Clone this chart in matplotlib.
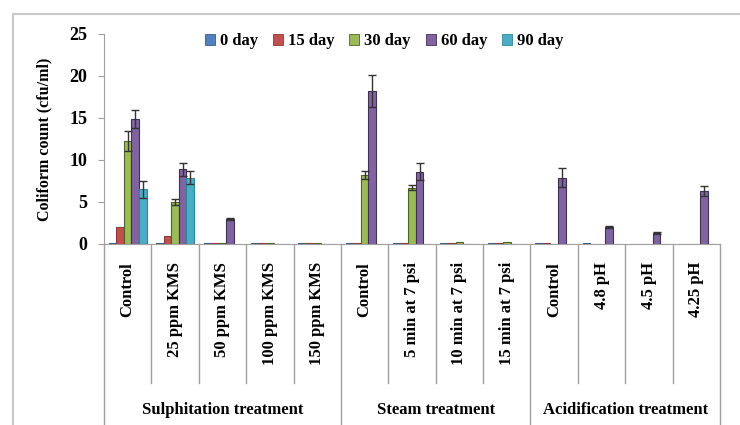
import matplotlib
matplotlib.use("Agg")
import matplotlib.pyplot as plt
import numpy as np
from matplotlib.lines import Line2D
from matplotlib.patches import Rectangle, Patch

plt.rcParams['font.family'] = ['Liberation Serif', 'DejaVu Serif']
plt.rcParams['font.weight'] = 'bold'

# Treatments (x categories) and their groups
categories = ["Control", "25 ppm KMS", "50 ppm KMS", "100 ppm KMS", "150 ppm KMS",
              "Control", "5 min at 7 psi", "10 min at 7 psi", "15 min at 7 psi",
              "Control", "4.8 pH", "4.5 pH", "4.25 pH"]
groups = ["Sulphitation treatment", "Steam treatment", "Acidification treatment"]
group_sizes = [5, 4, 4]

series_names = ["0 day", "15 day", "30 day", "60 day", "90 day"]
colors = ["#4F81BD", "#C0504D", "#9BBB59", "#8064A2", "#4BACC6"]
edges = ["#385D8A", "#8C3836", "#4F6228", "#3F3151", "#31859C"]

# Coliform counts (cfu/ml) per storage day
day0 = [0.1, 0.1, 0.1, 0.1, 0.1, 0.1, 0.1, 0.1, 0.1, 0.1, 0.1, 0.0, 0.0]
day15 = [2.0, 1.0, 0.1, 0.1, 0.1, 0.1, 0.1, 0.15, 0.15, 0.1, 0.0, 0.0, 0.0]
day30 = [12.3, 5.0, 0.15, 0.15, 0.15, 8.2, 6.7, 0.2, 0.2, 0.0, 0.0, 0.0, 0.0]
day60 = [14.9, 8.9, 3.0, 0.0, 0.0, 18.2, 8.6, 0.0, 0.0, 7.9, 2.0, 1.3, 6.3]
day90 = [6.5, 7.9, 0.0, 0.0, 0.0, 0.0, 0.0, 0.0, 0.0, 0.0, 0.0, 0.0, 0.0]

# Standard errors
err0 = [0] * 13
err15 = [0] * 13
err30 = [1.2, 0.4, 0, 0, 0, 0.5, 0.3, 0, 0, 0, 0, 0, 0]
err60 = [1.1, 0.8, 0.15, 0, 0, 1.9, 1.0, 0, 0, 1.1, 0.15, 0.15, 0.6]
err90 = [1.0, 0.8, 0, 0, 0, 0, 0, 0, 0, 0, 0, 0, 0]

yticks = [0, 5, 10, 15, 20, 25]

values = [day0, day15, day30, day60, day90]
errors = [err0, err15, err30, err60, err90]

W, H = 740, 425
fig = plt.figure(figsize=(W / 100, H / 100), dpi=100)

# Outer chart frame
fig.patches.append(Rectangle((13 / W, -0.1), 2.0, 1 - 14 / H + 0.1,
                             transform=fig.transFigure, fill=False,
                             edgecolor="#C8C8C8", linewidth=1.5))

ax_left, ax_right, ax_bottom, ax_top = 104, 720, 244, 34
ax = fig.add_axes([ax_left / W, 1 - ax_bottom / H,
                   (ax_right - ax_left) / W, (ax_bottom - ax_top) / H])

n = len(categories)
x = np.arange(n) + 0.5
w = 0.16
for k, (vals, errs) in enumerate(zip(values, errors)):
    pos = x + (k - 2) * w
    ax.bar(pos, vals, width=w, color=colors[k], edgecolor=edges[k],
           linewidth=0.8, label=series_names[k], zorder=2)
    e = np.array(errs, dtype=float)
    mask = e > 0
    if mask.any():
        ax.errorbar(pos[mask], np.array(vals)[mask], yerr=e[mask], fmt='none',
                    ecolor="#333333", elinewidth=1.0, capsize=3, capthick=1.0,
                    zorder=3)

ax.set_xlim(0, n)
ax.set_ylim(0, 25)
ax.set_yticks(yticks)
ax.set_yticklabels([str(t) for t in yticks], fontsize=13, fontweight='bold')
ax.tick_params(axis='y', direction='out', length=4, color="#A0A0A0", pad=8)
ax.set_xticks([])
for s in ["top", "right"]:
    ax.spines[s].set_visible(False)
ax.spines["left"].set_color("#A0A0A0")
ax.spines["bottom"].set_color("#A0A0A0")

ax.set_ylabel("Coliform count (cfu/ml)", fontsize=11.5, fontweight='bold', labelpad=12)

# Category labels and separators below the axis
trans = ax.get_xaxis_transform()
for i, lab in enumerate(categories):
    ax.text(i + 0.5, -0.085, lab, rotation=90, ha='center', va='top',
            fontsize=12, fontweight='bold', transform=trans)

inner_bottom = -(383 - 244) / 210
outer_bottom = -(440 - 244) / 210
bounds = np.cumsum([0] + group_sizes)
for b in range(n + 1):
    ybot = outer_bottom if b in bounds else inner_bottom
    ax.add_line(Line2D([b, b], [0, ybot], transform=trans, color="#A0A0A0",
                       linewidth=1.0, clip_on=False))

for g, name in enumerate(groups):
    center = (bounds[g] + bounds[g + 1]) / 2
    ax.text(center, -(410 - 244) / 210, name, ha='center', va='center',
            fontsize=12, fontweight='bold', transform=trans)

handles = [Patch(facecolor=c, edgecolor=e, linewidth=0.6) for c, e in zip(colors, edges)]
ax.legend(handles, series_names, loc='center', bbox_to_anchor=(0.455, 0.965),
          ncol=5, frameon=False, handlelength=0.6, handleheight=0.6,
          handletextpad=0.3, columnspacing=0.9, prop={'weight': 'bold', 'size': 12})

fig.savefig("out.png", dpi=100)
